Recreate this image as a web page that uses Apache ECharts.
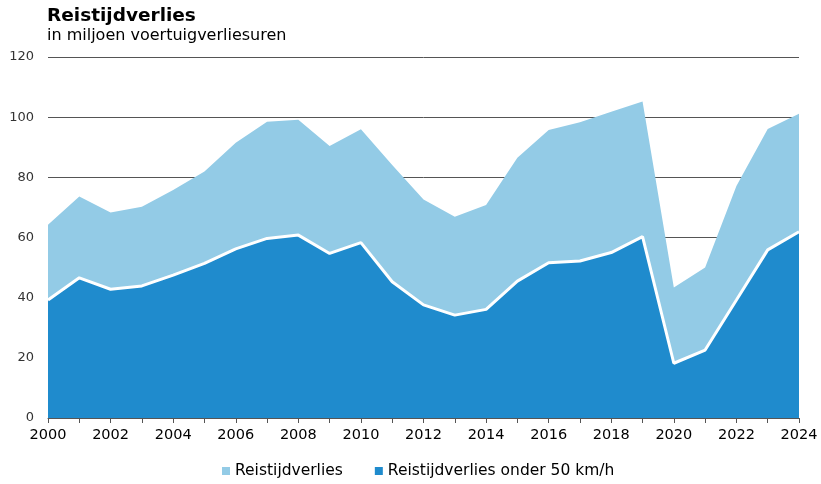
<!DOCTYPE html>
<html>
<head>
<meta charset="utf-8">
<script src="https://cdn.jsdelivr.net/npm/echarts@6/dist/echarts.min.js"></script>
<style>
	html, body { margin: 0; padding: 0; background: #fff; }
	#chart { width: 821px; height: 484px; }
</style>
</head>
<body>
<div id="chart"></div>
<script>
var years = ['2000', '2001', '2002', '2003', '2004', '2005', '2006', '2007', '2008', '2009',
	'2010', '2011', '2012', '2013', '2014', '2015', '2016', '2017', '2018', '2019',
	'2020', '2021', '2022', '2023', '2024'];
// totaal reistijdverlies (miljoen voertuigverliesuren)
var totaal = [64.2, 73.6, 68.3, 70.2, 75.8, 81.9, 91.5, 98.5, 99.1, 90.4,
	96.0, 84.1, 72.6, 66.9, 70.8, 86.5, 95.7, 98.3, 101.8, 105.2,
	43.4, 50.0, 77.1, 96.1, 101.1];
// waarvan onder 50 km/h
var onder50 = [39.2, 46.6, 42.8, 43.9, 47.5, 51.4, 56.2, 59.7, 60.8, 54.7,
	58.3, 45.3, 37.6, 34.2, 36.1, 45.5, 51.6, 52.2, 55.0, 60.3,
	18.2, 22.6, 39.2, 55.9, 61.9];
var yTicks = [0, 20, 40, 60, 80, 100, 120];

var colors = ['#93cbe6', '#1f8bcd'];
var font = 'DejaVu Sans, Verdana, sans-serif';

var myChart = echarts.init(document.getElementById('chart'));
var option = {
	color : colors,
	animation : false,
	title : [ {
		text : 'Reistijdverlies',
		left : 47,
		top : 7,
		padding : 0,
		textStyle : { fontFamily : font, fontSize : 18.5, fontWeight : 'bold', color : '#000' }
	}, {
		text : 'in miljoen voertuigverliesuren',
		left : 47,
		top : 28,
		padding : 0,
		textStyle : { fontFamily : font, fontSize : 16, fontWeight : 'normal', color : '#000' }
	} ],
	legend : {
		top : 463,
		left : 222,
		padding : 0,
		itemWidth : 8,
		itemHeight : 8,
		itemGap : 32,
		icon : 'rect',
		textStyle : { fontFamily : font, fontSize : 15.5, color : '#000' },
		data : [ 'Reistijdverlies', 'Reistijdverlies onder 50 km/h' ]
	},
	grid : {
		left : 48,
		right : 22,
		top : 57,
		bottom : 66,
		containLabel : false
	},
	xAxis : {
		type : 'category',
		boundaryGap : false,
		data : years,
		offset : 2,
		axisLine : { lineStyle : { color : '#555', width : 1 } },
		axisTick : { show : true, interval : 0, length : 5, lineStyle : { color : '#555' } },
		axisLabel : {
			interval : 1,
			margin : 8,
			fontFamily : font,
			fontSize : 14.5,
			color : '#000'
		}
	},
	yAxis : {
		type : 'value',
		min : yTicks[0],
		max : yTicks[yTicks.length - 1],
		interval : 20,
		axisLine : { show : false },
		axisTick : { show : false },
		axisLabel : { fontFamily : font, fontSize : 13, color : '#333', margin : 14 },
		splitLine : { lineStyle : { color : '#555', width : 1 } }
	},
	series : [ {
		name : 'Reistijdverlies',
		type : 'line',
		data : totaal,
		symbol : 'none',
		lineStyle : { width : 0 },
		areaStyle : { color : colors[0], opacity : 1 },
		z : 2
	}, {
		name : 'Reistijdverlies onder 50 km/h',
		type : 'line',
		data : onder50,
		symbol : 'none',
		lineStyle : { color : '#fff', width : 3 },
		itemStyle : { color : colors[1] },
		areaStyle : { color : colors[1], opacity : 1 },
		z : 3
	} ]
};
myChart.setOption(option);
</script>
</body>
</html>
